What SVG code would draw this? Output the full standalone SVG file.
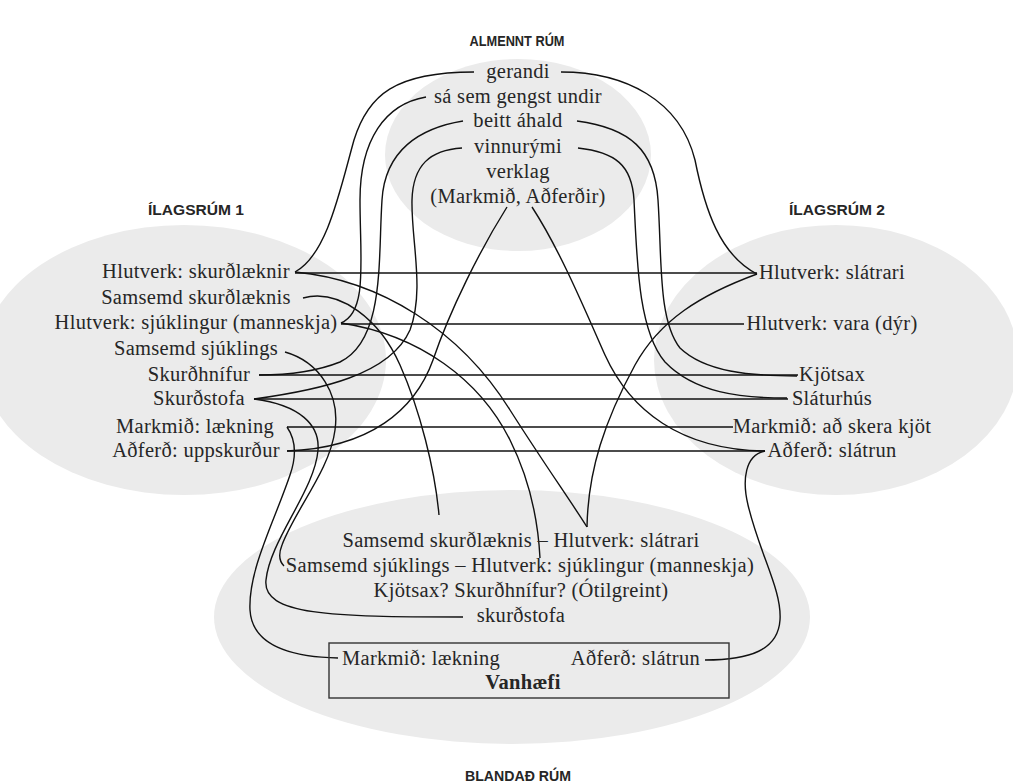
<svg xmlns="http://www.w3.org/2000/svg" width="1013" height="783" viewBox="0 0 1013 783">
<style>
.bg{fill:#ebebeb}
.t{font-family:"Liberation Serif","Times New Roman",serif;font-size:20.5px;letter-spacing:0.3px;fill:#262626;text-anchor:middle}
.ts{text-anchor:start}
.te{text-anchor:end}
.b{font-weight:bold;letter-spacing:0.3px}
.h{font-family:"Liberation Sans",Arial,sans-serif;font-size:15px;font-weight:bold;fill:#262626;text-anchor:middle}
.c path,.c line{fill:none;stroke:#111;stroke-width:1.4}
.box{fill:none;stroke:#333;stroke-width:1.4}
</style>
<g id="spaces">
<ellipse class="bg" cx="518" cy="155" rx="133" ry="96"/>
<ellipse class="bg" cx="184" cy="360" rx="202" ry="135"/>
<ellipse class="bg" cx="836" cy="360" rx="182" ry="135"/>
<ellipse class="bg" cx="512" cy="617" rx="298" ry="127"/>
</g>
<g id="titles">
<text class="h" x="517" y="46" textLength="95" lengthAdjust="spacingAndGlyphs">ALMENNT RÚM</text>
<text class="h" x="196" y="215" textLength="96" lengthAdjust="spacingAndGlyphs">ÍLAGSRÚM 1</text>
<text class="h" x="837" y="215" textLength="96" lengthAdjust="spacingAndGlyphs">ÍLAGSRÚM 2</text>
<text class="h" x="518" y="781" textLength="106" lengthAdjust="spacingAndGlyphs">BLANDAÐ RÚM</text>
</g>
<g id="connectors" class="c">
<path d="M474,72 C395,72 368,95 354,140 C340,190 327,255 295,272"/>
<path d="M561,72 C625,72 680,100 695,160 C705,210 720,255 757,274"/>
<path d="M426,97 C385,104 360,140 360,200 C360,260 368,312 341,323"/>
<path d="M463,121 C420,128 385,150 382,200 C378,260 385,340 340,362 C310,374 280,375 259,375"/>
<path d="M577,121 C630,128 655,150 658,200 C662,260 658,320 680,348 C705,372 750,376 797,376"/>
<path d="M462,148 C430,150 413,165 412,200 C411,240 425,290 410,330 C390,375 320,390 254,399"/>
<path d="M578,148 C615,152 632,165 634,200 C637,260 638,330 665,362 C695,393 740,398 787,398"/>
<path d="M507,207 C480,250 450,310 433,360 C415,410 370,448 287,451"/>
<path d="M532,207 C560,250 585,310 605,355 C630,410 680,450 765,451"/>
<line x1="295" y1="273" x2="757" y2="273"/>
<line x1="341" y1="324" x2="744" y2="324"/>
<line x1="259" y1="375" x2="798" y2="375"/>
<line x1="254" y1="399" x2="788" y2="399"/>
<line x1="287" y1="427" x2="733" y2="427"/>
<line x1="287" y1="451" x2="765" y2="451"/>
<path d="M295,272 C380,280 460,330 510,410 C545,465 570,500 587,527"/>
<path d="M757,274 C700,295 660,320 635,365 C605,420 588,470 587,527"/>
<path d="M341,323 C420,335 480,380 510,440 C530,480 538,520 540,558"/>
<path d="M303,298 C340,288 380,320 400,365 C420,410 435,470 439,515"/>
<path d="M285,352 C320,362 340,395 335,430 C330,470 295,510 282,545 C278,555 280,562 284,566"/>
<path d="M254,399 C300,405 320,425 318,450 C315,490 270,540 266,580 C262,615 330,617 463,617"/>
<path d="M287,427 C296,440 297,455 290,475 C275,520 248,570 250,610 C252,645 290,657 338,658"/>
<path d="M765,451 C745,455 742,480 748,505 C760,555 782,590 780,620 C778,650 750,660 705,660"/>
</g>
<g id="node-almennt">
<text class="t" x="518" y="78">gerandi</text>
<text class="t" x="518" y="103">sá sem gengst undir</text>
<text class="t" x="518" y="127">beitt áhald</text>
<text class="t" x="518" y="153">vinnurými</text>
<text class="t" x="518" y="178">verklag</text>
<text class="t" x="518" y="203">(Markmið, Aðferðir)</text>
</g>
<g id="node-ilagsrum1">
<text class="t" x="196" y="278">Hlutverk: skurðlæknir</text>
<text class="t" x="196" y="304">Samsemd skurðlæknis</text>
<text class="t" x="196" y="329">Hlutverk: sjúklingur (manneskja)</text>
<text class="t" x="196" y="355">Samsemd sjúklings</text>
<text class="t" x="199" y="381">Skurðhnífur</text>
<text class="t" x="199" y="405">Skurðstofa</text>
<text class="t" x="195" y="433">Markmið: lækning</text>
<text class="t" x="196" y="457">Aðferð: uppskurður</text>
</g>
<g id="node-ilagsrum2">
<text class="t" x="832" y="279">Hlutverk: slátrari</text>
<text class="t" x="832" y="330">Hlutverk: vara (dýr)</text>
<text class="t" x="832" y="381">Kjötsax</text>
<text class="t" x="832" y="405">Sláturhús</text>
<text class="t" x="832" y="433">Markmið: að skera kjöt</text>
<text class="t" x="832" y="457">Aðferð: slátrun</text>
</g>
<g id="node-blandad">
<text class="t" x="521" y="547">Samsemd skurðlæknis – Hlutverk: slátrari</text>
<text class="t" x="520" y="572">Samsemd sjúklings – Hlutverk: sjúklingur (manneskja)</text>
<text class="t" x="521" y="597">Kjötsax? Skurðhnífur? (Ótilgreint)</text>
<text class="t" x="521" y="622">skurðstofa</text>
</g>
<g id="node-vanhaefi">
<rect class="box" x="329" y="643" width="400" height="55"/>
<text class="t ts" x="342" y="665">Markmið: lækning</text>
<text class="t te" x="700" y="665">Aðferð: slátrun</text>
<text class="t b" x="523" y="689">Vanhæfi</text>
</g>
</svg>
